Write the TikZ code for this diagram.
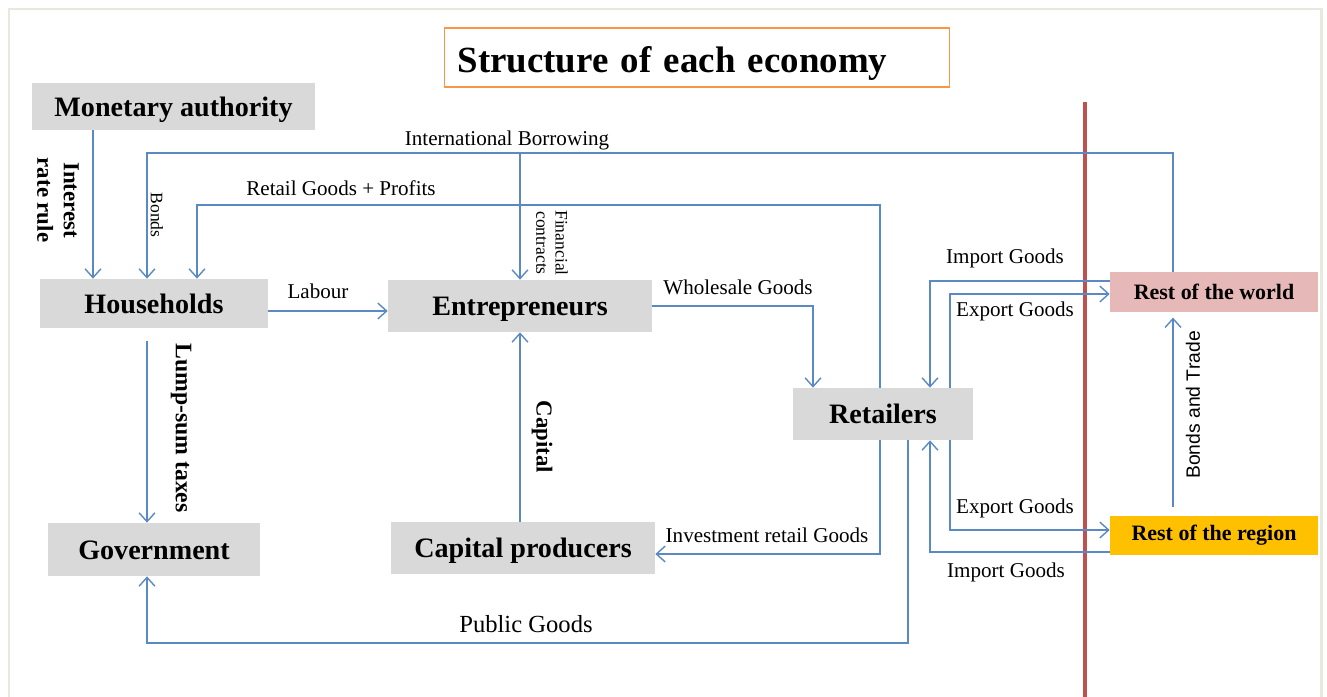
\documentclass[tikz,border=0pt]{standalone}
\usepackage{fontspec}
\setmainfont{Liberation Serif}
\setsansfont{Liberation Sans}
\usepackage{tikz}
\usetikzlibrary{positioning,arrows.meta}
\definecolor{BoxGray}{HTML}{D9D9D9}
\definecolor{FlowBlue}{HTML}{5B89C4}
\definecolor{WorldPink}{HTML}{E6B8B7}
\definecolor{RegionAmber}{HTML}{FFC000}
\definecolor{BorderRed}{HTML}{C0504D}
\definecolor{TitleOrange}{HTML}{F79646}
\definecolor{FrameBeige}{HTML}{EAE8DC}

\begin{document}
\begin{tikzpicture}[
    x=0.02cm, y=-0.02cm,
    every node/.style={font=\fontsize{12}{14}\selectfont},
    box/.style={fill=BoxGray, inner sep=0pt, text height=11pt, text depth=0pt,
                font=\fontsize{16}{18}\selectfont\bfseries},
    extbox/.style={inner sep=0pt, minimum width=4.16cm, font=\fontsize{12.5}{14}\selectfont\bfseries},
    flow/.style={draw=FlowBlue, line width=0.8pt, -{Straight Barb[length=5pt,width=9pt]}},
    vlabel/.style={rotate=-90, align=center, font=\fontsize{13}{15}\selectfont\bfseries},
    small/.style={rotate=-90, align=center, font=\fontsize{10}{11}\selectfont},
]
\useasboundingbox (0,0) rectangle (1327,696);
\draw[FrameBeige, line width=1.7pt] (9,700) -- (9,9) -- (1321,9) -- (1321,700);
\draw[BorderRed, line width=2.2pt] (1085,102) -- (1085,700);

\node[draw=TitleOrange, line width=0.6pt, minimum width=10.1cm, minimum height=1.18cm,
      text width=9.58cm, inner xsep=0.26cm, align=left, text height=22pt, text depth=4.5pt,
      font=\fontsize{21}{24}\selectfont\bfseries] (title) at (697,57.5) {Structure of each economy};

\node[box, minimum width=5.66cm, minimum height=0.94cm] (monetary) at (173.5,106.5) {Monetary authority};
\node[box, minimum width=4.56cm, minimum height=0.98cm] (households) at (154,303.5) {Households};
\node[box, minimum width=5.28cm, minimum height=1.04cm] (entrepreneurs) at (520,306) {Entrepreneurs};
\node[box, minimum width=3.6cm, minimum height=1.04cm] (retailers) at (883,414) {Retailers};
\node[box, minimum width=4.24cm, minimum height=1.06cm] (government) at (154,549.5) {Government};
\node[box, minimum width=5.28cm, minimum height=1.04cm] (capprod) at (523,548) {Capital producers};
\node[extbox, fill=WorldPink, minimum height=0.8cm] (restworld) at (1214,292) {Rest of the world};
\node[extbox, fill=RegionAmber, minimum height=0.78cm] (restregion) at (1214,535.5) {Rest of the region};

\draw[flow] (93,0 |- monetary.south) -- (93,0 |- households.north);
\node[vlabel] (interestlbl) at (58,200) {Interest\\rate rule};

\draw[flow] (1173,0 |- restworld.north) |- (147,153) -- (147,0 |- households.north);
\draw[flow] (520,153) -- (entrepreneurs.north);
\node (borrowlbl) at (507,140) {International Borrowing};
\node[small] (bondslbl) at (157,215) {Bonds};
\node[small] (contractlbl) at (552,243) {Financial\\contracts};

\draw[flow] (880,0 |- retailers.north) |- (197,205) -- (197,0 |- households.north);
\node (profitlbl) at (341,188) {Retail Goods + Profits};

\draw[flow] (households.east |- 0,311) -- (entrepreneurs.west |- 0,311);
\node (labourlbl) at (318,291) {Labour};

\draw[flow] (entrepreneurs.east) -| (813,0 |- retailers.north);
\node (wholesalelbl) at (738,287) {Wholesale Goods};

\draw[flow] (entrepreneurs.south |- capprod.north) -- (entrepreneurs.south);
\node[vlabel] (capitallbl) at (542,437) {Capital};

\draw[flow] (880,0 |- retailers.south) |- (capprod.east |- 0,554);
\node (investlbl) at (767,535) {Investment retail Goods};

\draw[flow, shorten <=7pt] (147,0 |- households.south) -- (147,0 |- government.north);
\node[vlabel, font=\fontsize{13.5}{15}\selectfont\bfseries] (taxlbl) at (181,428) {Lump-sum taxes};

\draw[flow] (908,0 |- retailers.south) |- (147,643) -- (147,0 |- government.south);
\node[font=\fontsize{14}{16}\selectfont] (publiclbl) at (526,624) {Public Goods};

\draw[flow] (restworld.west |- 0,281) -| (930,0 |- retailers.north);
\node (importtop) at (1005,258) {Import Goods};
\draw[flow] (950,0 |- retailers.north) |- (restworld.west |- 0,294);
\node (exporttop) at (1015,311) {Export Goods};

\draw[flow] (950,0 |- retailers.south) |- (restregion.west |- 0,530);
\node (exportbot) at (1015,508) {Export Goods};
\draw[flow] (restregion.west |- 0,552) -| (930,0 |- retailers.south);
\node (importbot) at (1006,572) {Import Goods};

\draw[flow, shorten <=5pt, shorten >=3pt] (1173,0 |- restregion.north) -- (1173,0 |- restworld.south);
\node[rotate=90, font=\sffamily\fontsize{11}{13}\selectfont] (tradelbl) at (1193,405) {Bonds and Trade};
\end{tikzpicture}
\end{document}
